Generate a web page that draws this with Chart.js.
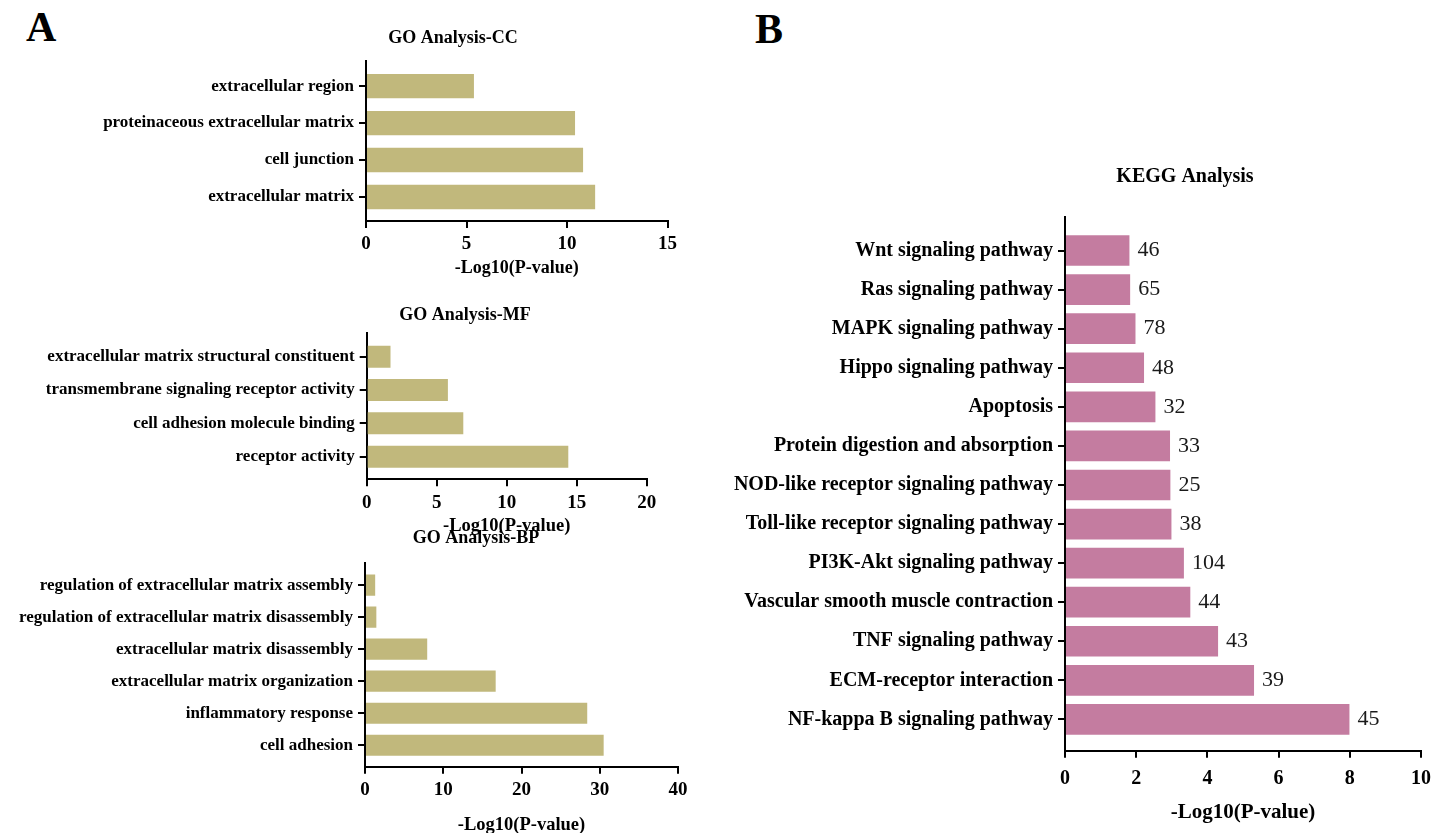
<!DOCTYPE html>
<html>
<head>
<meta charset="utf-8">
<script src="https://cdn.jsdelivr.net/npm/chart.js@4.4.1/dist/chart.umd.min.js"></script>
<style>
  html, body { margin: 0; padding: 0; background: #fff; overflow: hidden; width: 1434px; height: 833px; }
  canvas { position: absolute; }
  .panel { position: absolute; font-family: "Liberation Serif", "Times New Roman", serif; font-weight: bold; font-size: 42px; line-height: 42px; color: #000; }
</style>
</head>
<body>
<div class="panel" style="left:26px; top:6px;">A</div>
<div class="panel" style="left:755px; top:8px;">B</div>
<canvas id="cc" width="906" height="290" style="left:0px; top:0px; width:906px; height:290px;"></canvas>
<canvas id="mf" width="930" height="250" style="left:0px; top:290px; width:930px; height:250px;"></canvas>
<canvas id="bp" width="952" height="320" style="left:0px; top:520px; width:952px; height:320px;"></canvas>
<canvas id="kegg" width="930" height="683" style="left:720px; top:150px; width:930px; height:683px;"></canvas>
<script>
// ---------------- DATA ----------------
const ccLabels = ['extracellular region', 'proteinaceous extracellular matrix', 'cell junction', 'extracellular matrix'];
const ccValues = [5.37, 10.4, 10.8, 11.4];

const mfLabels = ['extracellular matrix structural constituent', 'transmembrane signaling receptor activity', 'cell adhesion molecule binding', 'receptor activity'];
const mfValues = [1.7, 5.8, 6.9, 14.4];

const bpLabels = ['regulation of extracellular matrix assembly', 'regulation of extracellular matrix disassembly', 'extracellular matrix disassembly', 'extracellular matrix organization', 'inflammatory response', 'cell adhesion'];
const bpValues = [1.3, 1.45, 7.95, 16.7, 28.4, 30.5];

const keggLabels = ['Wnt signaling pathway', 'Ras signaling pathway', 'MAPK signaling pathway', 'Hippo signaling pathway', 'Apoptosis', 'Protein digestion and absorption', 'NOD-like receptor signaling pathway', 'Toll-like receptor signaling pathway', 'PI3K-Akt signaling pathway', 'Vascular smooth muscle contraction', 'TNF signaling pathway', 'ECM-receptor interaction', 'NF-kappa B signaling pathway'];
const keggValues = [1.81, 1.83, 1.98, 2.22, 2.54, 2.95, 2.96, 2.99, 3.34, 3.52, 4.30, 5.31, 7.99];
const keggCounts = [46, 65, 78, 48, 32, 33, 25, 38, 104, 44, 43, 39, 45];

const xTitle = '-Log10(P-value)';
const ccXTicks = { max: 15, step: 5 };
const mfXTicks = { max: 20, step: 5 };
const bpXTicks = { max: 40, step: 10 };
const keggXTicks = { max: 10, step: 2 };

// ---------------- STYLE / LAYOUT ----------------
Chart.defaults.font.family = '"Liberation Serif", "Times New Roman", serif';
Chart.defaults.color = '#000';

const goColor = '#c1b87c';
const keggColor = '#c47ca0';

const layouts = {
  cc:   { title: 'GO Analysis-CC', titleSize: 18, titlePadTop: 27.2, titlePadBottom: 12.2,
          yAxisWidth: 366, rightSpace: 238.5, yMin: -0.68, yMax: 3.65, barPct: 0.66, yTickSize: 17,
          xAxisHeight: 69, xTickPad: 5, xTickSize: 19, xTitleSize: 18, xTitlePadBottom: 10.9 },
  mf:   { title: 'GO Analysis-MF', titleSize: 18, titlePadTop: 14.2, titlePadBottom: 7.2,
          yAxisWidth: 366.7, rightSpace: 283.3, yMin: -0.71, yMax: 3.68, barPct: 0.66, yTickSize: 17,
          xAxisHeight: 60.7, xTickPad: 5, xTickSize: 19, xTitleSize: 18.5, xTitlePadBottom: 2.2 },
  bp:   { title: 'GO Analysis-BP', titleSize: 18, titlePadTop: 7.2, titlePadBottom: 13.9,
          yAxisWidth: 365, rightSpace: 274, yMin: -0.70, yMax: 5.67, barPct: 0.66, yTickSize: 17,
          xAxisHeight: 73.3, xTickPad: 5, xTickSize: 19, xTitleSize: 18.5, xTitlePadBottom: 3.9 },
  kegg: { title: 'KEGG Analysis', titleSize: 20, titlePadTop: 14.7, titlePadBottom: 28,
          yAxisWidth: 345, rightSpace: 229, yMin: -0.865, yMax: 12.8, barPct: 0.785, yTickSize: 20,
          xAxisHeight: 82.3, xTickPad: 9, xTickSize: 20, xTitleSize: 21, xTitlePadBottom: 7.4 }
};

const countLabels = {
  id: 'countLabels',
  afterDatasetsDraw(chart) {
    const ctx = chart.ctx;
    const meta = chart.getDatasetMeta(0);
    ctx.save();
    ctx.font = '22px "Liberation Serif", "Times New Roman", serif';
    ctx.fillStyle = '#1a1a1a';
    ctx.textAlign = 'left';
    ctx.textBaseline = 'middle';
    meta.data.forEach((bar, i) => ctx.fillText(String(keggCounts[i]), bar.x + 8, bar.y));
    ctx.restore();
  }
};

function axisGrid() {
  return { display: true, offset: false, drawOnChartArea: false, drawTicks: true, tickLength: 7, color: '#000', lineWidth: 2 };
}
function axisBorder() {
  return { display: true, color: '#000', width: 2 };
}

function barChart(id, L, labels, values, color, xt, extraPlugins) {
  return new Chart(document.getElementById(id), {
    type: 'bar',
    data: {
      datasets: [{
        data: values.map((v, i) => ({ x: v, y: i })),
        backgroundColor: color,
        borderWidth: 0,
        barPercentage: L.barPct,
        categoryPercentage: 1
      }]
    },
    options: {
      indexAxis: 'y',
      responsive: false,
      animation: false,
      events: [],
      layout: { padding: 0 },
      plugins: {
        legend: { display: false },
        tooltip: { enabled: false },
        title: {
          display: true, text: L.title, color: '#000',
          font: { size: L.titleSize, weight: 'bold', lineHeight: 1.2 },
          padding: { top: L.titlePadTop, bottom: L.titlePadBottom }
        }
      },
      scales: {
        x: {
          type: 'linear', position: 'bottom', min: 0, max: xt.max, offset: false,
          ticks: { stepSize: xt.step, color: '#000', padding: L.xTickPad, font: { size: L.xTickSize, weight: 'bold' } },
          grid: axisGrid(), border: axisBorder(),
          title: { display: true, text: xTitle, color: '#000', font: { size: L.xTitleSize, weight: 'bold', lineHeight: 1.2 }, padding: { top: 0, bottom: L.xTitlePadBottom } },
          afterFit: s => { s.height = L.xAxisHeight; }
        },
        y: {
          type: 'linear', position: 'left', reverse: true, min: L.yMin, max: L.yMax, offset: false,
          afterBuildTicks: s => { s.ticks = labels.map((_, i) => ({ value: i })); },
          ticks: { autoSkip: false, color: '#000', padding: 5, font: { size: L.yTickSize, weight: 'bold' },
                   callback: v => (labels[v] !== undefined ? labels[v] : '') },
          grid: axisGrid(), border: axisBorder(),
          afterFit: s => { s.width = L.yAxisWidth; }
        },
        pad: {
          type: 'linear', position: 'right', display: true, offset: false,
          grid: { display: false }, border: { display: false }, ticks: { display: false },
          afterFit: s => { s.width = L.rightSpace; }
        }
      }
    },
    plugins: extraPlugins || []
  });
}

barChart('cc', layouts.cc, ccLabels, ccValues, goColor, ccXTicks);
barChart('mf', layouts.mf, mfLabels, mfValues, goColor, mfXTicks);
barChart('bp', layouts.bp, bpLabels, bpValues, goColor, bpXTicks);
barChart('kegg', layouts.kegg, keggLabels, keggValues, keggColor, keggXTicks, [countLabels]);
</script>
</body>
</html>
